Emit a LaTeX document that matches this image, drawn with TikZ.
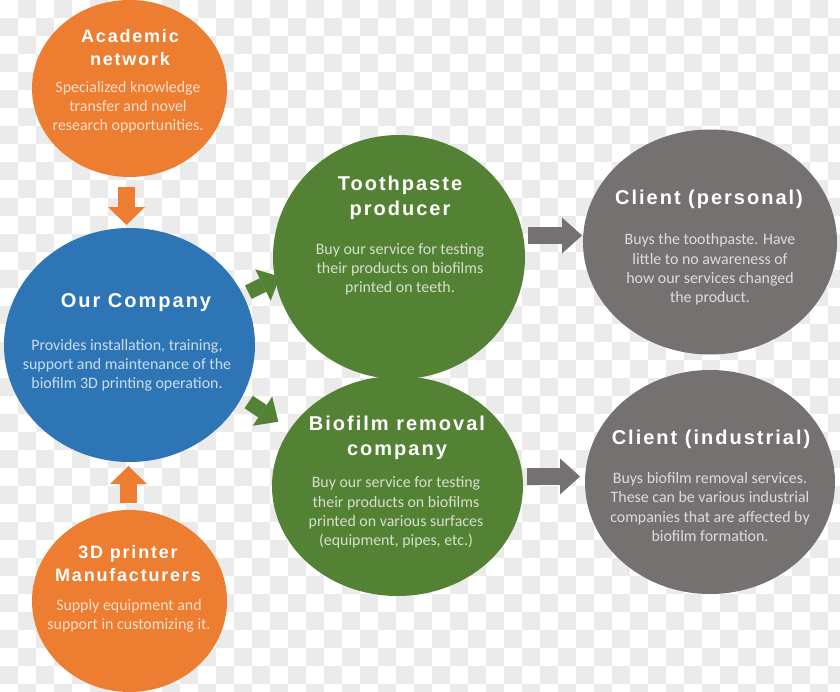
\documentclass[tikz,border=0pt]{standalone}
\usepackage{fontspec}
\setmainfont{Carlito}
\newfontfamily\titlefont[LetterSpace=10]{Liberation Sans}
\usetikzlibrary{shapes.geometric,arrows.meta}
\definecolor{corange}{HTML}{ED7D31}
\definecolor{cblue}{HTML}{2E75B6}
\definecolor{cgreen}{HTML}{548235}
\definecolor{cgray}{HTML}{767171}
\definecolor{checker}{HTML}{EBEBEB}
\tikzset{
  blob/.style={ellipse, inner sep=0pt, draw=none},
  ttl/.style={align=center, text=white, inner sep=0pt},
  ttlbig/.style={ttl, font=\titlefont\bfseries\fontsize{20bp}{25bp}\selectfont},
  ttlsmall/.style={ttl, font=\titlefont\bfseries\fontsize{18bp}{23bp}\selectfont},
  body/.style={align=center, inner sep=0pt, font=\fontsize{15.9bp}{19.2bp}\selectfont},
  blockarr/.style={line width=#1, line cap=butt},
  orangearr/.style={blockarr=17.5bp, draw=corange, -{Triangle[length=18bp,width=37bp,line width=0pt]}},
  greenarr/.style={blockarr=15bp, draw=cgreen, -{Triangle[length=19bp,width=35bp,line width=0pt]}},
  grayarr/.style={blockarr=17bp, draw=cgray, -{Triangle[length=20bp,width=36bp,line width=0pt]}}
}
\begin{document}
\begin{tikzpicture}[x=1bp,y=-1bp]
\useasboundingbox (0,0) rectangle (840,692);
\begin{scope}
\clip (0,0) rectangle (840,692);
\fill[white] (0,0) rectangle (840,692);
\foreach \i in {0,...,46}{
  \foreach \j in {0,...,38}{
    \pgfmathtruncatemacro{\chkpar}{mod(\i+\j,2)}
    \ifnum\chkpar=1 \fill[checker] (\i*18,\j*18) rectangle ++(18,18); \fi
  }
}
\end{scope}

% circles
\node[blob, fill=corange, minimum width=195bp, minimum height=177bp] (acad) at (129.5,88.5) {};
\node[blob, fill=cblue, minimum width=251bp, minimum height=234bp] (comp) at (129.5,345) {};
\node[blob, fill=corange, minimum width=195bp, minimum height=182bp] (print) at (129.5,601) {};
\node[blob, fill=cgreen, minimum width=252bp, minimum height=244bp] (tooth) at (399,257) {};
\node[blob, fill=cgreen, minimum width=251bp, minimum height=220bp] (bio) at (397.5,486) {};
\node[blob, fill=cgray, minimum width=254bp, minimum height=225bp] (cp) at (710,242) {};
\node[blob, fill=cgray, minimum width=250bp, minimum height=224bp] (ci) at (710,482) {};

% texts
\node[ttlsmall] (acadT) at (130,47.5) {Academic\\network};
\node[body, text=white!75!corange] (acadB) at (128,107.5) {Specialized knowledge\\transfer and novel\\research opportunities.};
\node[ttlbig] (compT) at (136,303) {Our Company};
\node[body, text=white!75!cblue] (compB) at (127,365.5) {Provides installation, training,\\support and maintenance of the\\biofilm 3D printing operation.};
\node[ttlsmall] (printT) at (128,564) {3D printer\\Manufacturers};
\node[body, text=white!75!corange] (printB) at (129,616) {Supply equipment and\\support in customizing it.};
\node[ttlbig] (toothT) at (400,197.5) {Toothpaste\\producer};
\node[body, text=white!75!cgreen] (toothB) at (400,269.5) {Buy our service for testing\\their products on biofilms\\printed on teeth.};
\node[ttlbig] (bioT) at (397,437.5) {Biofilm removal\\company};
\node[body, text=white!75!cgreen] (bioB) at (396,512.5) {Buy our service for testing\\their products on biofilms\\printed on various surfaces\\(equipment, pipes, etc.)};
\node[ttlbig] (cpT) at (709,199) {Client (personal)};
\node[body, text=white!75!cgray] (cpB) at (710,269.5) {Buys the toothpaste. Have\\little to no awareness of\\how our services changed\\the product.};
\node[ttlbig] (ciT) at (711,439) {Client (industrial)};
\node[body, text=white!75!cgray] (ciB) at (710,507) {Buys biofilm removal services.\\These can be various industrial\\companies that are affected by\\biofilm formation.};

% arrow anchor points
\coordinate (a1s) at (126.5,187);  \coordinate (a1e) at (126.5,225);
\coordinate (a2s) at (128.5,503);  \coordinate (a2e) at (128.5,466);
\coordinate (g1s) at (248.3,292.2); \coordinate (g1e) at (280,276.7);
\coordinate (g2s) at (248.7,402);  \coordinate (g2e) at (278.3,421.7);
\coordinate (r1s) at (528,235.5);  \coordinate (r1e) at (582,235.5);
\coordinate (r2s) at (527,476.5);  \coordinate (r2e) at (580,476.5);

\draw[orangearr] (a1s) -- (a1e);
\draw[orangearr] (a2s) -- (a2e);
\draw[greenarr] (g1s) -- (g1e);
\draw[greenarr] (g2s) -- (g2e);
\draw[grayarr] (r1s) -- (r1e);
\draw[grayarr] (r2s) -- (r2e);
\end{tikzpicture}
\end{document}
